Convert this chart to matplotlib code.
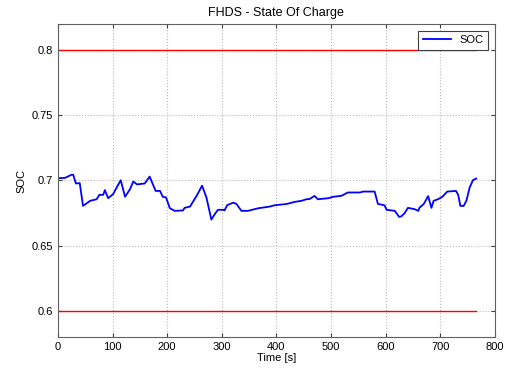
import matplotlib
matplotlib.use('Agg')
import matplotlib.pyplot as plt

plt.rcParams['font.family'] = ['Liberation Sans', 'DejaVu Sans']

# SOC trace
time_s = [0, 13, 25, 28, 33, 40, 46, 59, 71, 76, 83, 86, 92, 101, 115, 123, 132,
          138, 145, 159, 168, 179, 187, 192, 198, 205, 214, 229, 232, 242, 254,
          264, 272, 281, 287, 293, 303, 305, 310, 321, 327, 336, 348, 367, 388,
          397, 419, 434, 446, 455, 461, 470, 476, 495, 504, 519, 531, 553, 559,
          580, 586, 598, 602, 617, 625, 629, 635, 641, 653, 660, 662, 670, 678,
          684, 688, 696, 704, 713, 729, 733, 737, 743, 748, 754, 760, 766]
soc = [0.7018, 0.702, 0.7044, 0.7044, 0.6977, 0.698, 0.6805, 0.6844, 0.6856,
       0.689, 0.689, 0.6926, 0.6864, 0.6895, 0.7002, 0.6875, 0.6933, 0.6992,
       0.697, 0.6977, 0.703, 0.692, 0.692, 0.6875, 0.687, 0.6787, 0.6767,
       0.677, 0.679, 0.680, 0.6882, 0.696, 0.687, 0.670, 0.674, 0.6775,
       0.6775, 0.677, 0.681, 0.683, 0.682, 0.6767, 0.6767, 0.6787, 0.680,
       0.681, 0.682, 0.6836, 0.6844, 0.6856, 0.6858, 0.6882, 0.6856, 0.6864,
       0.6875, 0.6882, 0.6908, 0.6908, 0.6915, 0.6915, 0.682, 0.681, 0.6775,
       0.6767, 0.672, 0.6725, 0.675, 0.679, 0.678, 0.6767, 0.679, 0.682,
       0.688, 0.679, 0.6844, 0.6856, 0.6875, 0.6915, 0.692, 0.689, 0.6805,
       0.6805, 0.6844, 0.6946, 0.7002, 0.7015]

soc_limits = [0.6, 0.8]
limit_span = [0, 766]

fig = plt.figure(figsize=(5.17, 3.71), dpi=100)
ax = fig.add_axes([0.112, 0.092, 0.845, 0.843])

line, = ax.plot(time_s, soc, color='#0000ff', lw=1.3, label='SOC')
for lim in soc_limits:
    ax.plot(limit_span, [lim, lim], color='#ff0000', lw=1.0)

ax.set_xlim(0, 800)
ax.set_ylim(0.58, 0.82)
ax.set_xticks(range(0, 801, 100))
ax.set_yticks([0.6, 0.65, 0.7, 0.75, 0.8])
ax.set_yticklabels(['0.6', '0.65', '0.7', '0.75', '0.8'])
ax.grid(True, linestyle=':', color='#b8b8b8', lw=0.8)
ax.tick_params(direction='in', top=True, right=True, labelsize=8, length=3,
               colors='#404040', labelcolor='black')
for sp in ax.spines.values():
    sp.set_color('#606060')
    sp.set_linewidth(0.8)

ax.set_xlabel('Time [s]', fontsize=8, labelpad=1)
ax.set_ylabel('SOC', fontsize=8, labelpad=4)
ax.set_title('FHDS - State Of Charge', fontsize=9, pad=6)

leg = ax.legend(handles=[line], loc='upper right', fontsize=8, fancybox=False,
                edgecolor='#404040', framealpha=1, borderpad=0.4,
                handlelength=2.5, borderaxespad=0.6)
leg.get_frame().set_linewidth(0.8)

fig.savefig('out.png', dpi=100)
